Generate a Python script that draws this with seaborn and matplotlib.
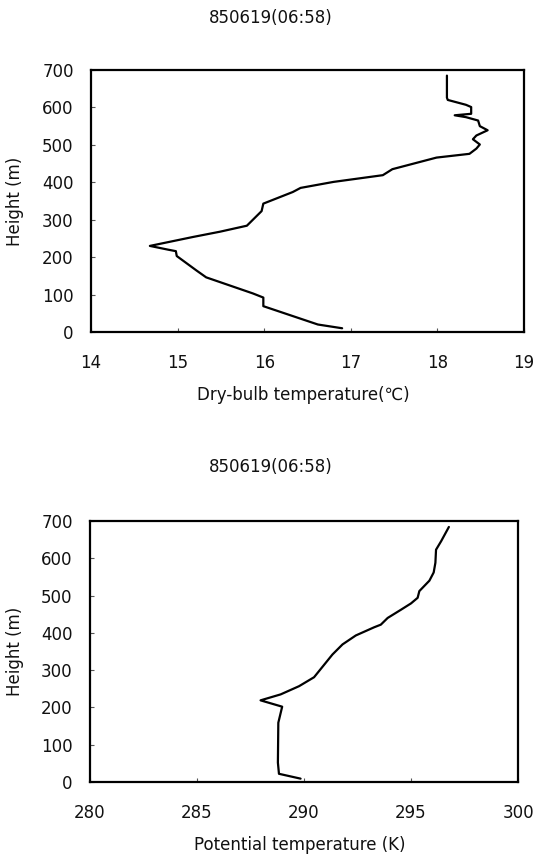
import numpy as np
import pandas as pd
import matplotlib
matplotlib.use("Agg")
import matplotlib.pyplot as plt
import seaborn as sns

title = "850619(06:58)"

# Dry-bulb temperature profile
dry_height = [10, 20, 69, 92, 103, 146, 164, 203, 216, 220, 230, 254, 268, 284, 323, 343,
              374, 385, 401, 419, 435, 466, 476, 490, 501, 515, 525, 539, 550, 565, 574,
              579, 583, 601, 607, 620, 626, 685]
dry_temp = [16.90, 16.62, 15.99, 15.99, 15.87, 15.33, 15.22, 14.99, 14.98, 14.89, 14.68,
            15.18, 15.49, 15.80, 15.97, 15.99, 16.33, 16.42, 16.80, 17.37, 17.48, 17.99,
            18.37, 18.45, 18.49, 18.41, 18.45, 18.58, 18.49, 18.47, 18.33, 18.20, 18.39,
            18.39, 18.33, 18.12, 18.11, 18.11]

# Potential temperature profile
pot_height = [9, 22, 52, 159, 202, 219, 235, 257, 281, 320, 342, 369, 393, 415, 422, 440,
              462, 479, 494, 512, 540, 562, 588, 623, 646, 684]
pot_temp = [289.84, 288.83, 288.78, 288.80, 288.98, 287.97, 288.91, 289.77, 290.47, 291.02,
            291.33, 291.80, 292.42, 293.28, 293.59, 293.91, 294.53, 295.00, 295.31, 295.39,
            295.86, 296.06, 296.14, 296.17, 296.41, 296.77]

y_ticks = [0, 100, 200, 300, 400, 500, 600, 700]
dry_xticks = [14, 15, 16, 17, 18, 19]
pot_xticks = [280, 285, 290, 295, 300]

sns.set_theme(style="white")
plt.rcParams['font.family'] = ['DejaVu Sans']

W, H = 535, 856
fig = plt.figure(figsize=(W / 100, H / 100), dpi=100)

ax1 = fig.add_axes([91 / W, 1 - 332 / H, 433 / W, 262 / H])
ax2 = fig.add_axes([90 / W, 1 - 782 / H, 428 / W, 261 / H])

df1 = pd.DataFrame({"t": dry_temp, "h": dry_height})
df2 = pd.DataFrame({"t": pot_temp, "h": pot_height})

sns.lineplot(data=df1, x="t", y="h", sort=False, estimator=None, color="black",
             linewidth=1.6, ax=ax1)
sns.lineplot(data=df2, x="t", y="h", sort=False, estimator=None, color="black",
             linewidth=1.6, ax=ax2)

fs = 12
for ax, xt, xl, xlab_y in [(ax1, dry_xticks, "Dry-bulb temperature(\u2103)", -0.240),
                           (ax2, pot_xticks, "Potential temperature (K)", -0.241)]:
    ax.set_xlim(xt[0], xt[-1])
    ax.set_ylim(0, 700)
    ax.set_xticks(xt)
    ax.set_yticks(y_ticks)
    ax.set_xticklabels([str(v) for v in xt], fontsize=fs)
    ax.set_yticklabels([str(v) for v in y_ticks], fontsize=fs)
    ax.tick_params(axis="both", direction="in", length=3, width=0.8, color="#555555",
                   bottom=True, left=True, labelcolor="#111111")
    ax.tick_params(axis="x", pad=16)
    ax.tick_params(axis="y", pad=12.5)
    for s in ax.spines.values():
        s.set_visible(True)
        s.set_color("black")
        s.set_linewidth(1.6)
    ax.set_xlabel(xl, fontsize=fs, color="#111111")
    ax.set_ylabel("Height (m)", fontsize=fs, color="#111111")
    ax.xaxis.set_label_coords(0.49, xlab_y)
    ax.yaxis.set_label_coords(-0.175, 0.5)
    ax.xaxis.label.set_va("center")
    ax.yaxis.label.set_va("center")
    ax.grid(False)

fig.text(271 / W, 1 - 18 / H, title, ha="center", va="center", fontsize=fs, color="#111111")
fig.text(271 / W, 1 - 467 / H, title, ha="center", va="center", fontsize=fs, color="#111111")

fig.savefig("out.png", dpi=100, facecolor="white")
